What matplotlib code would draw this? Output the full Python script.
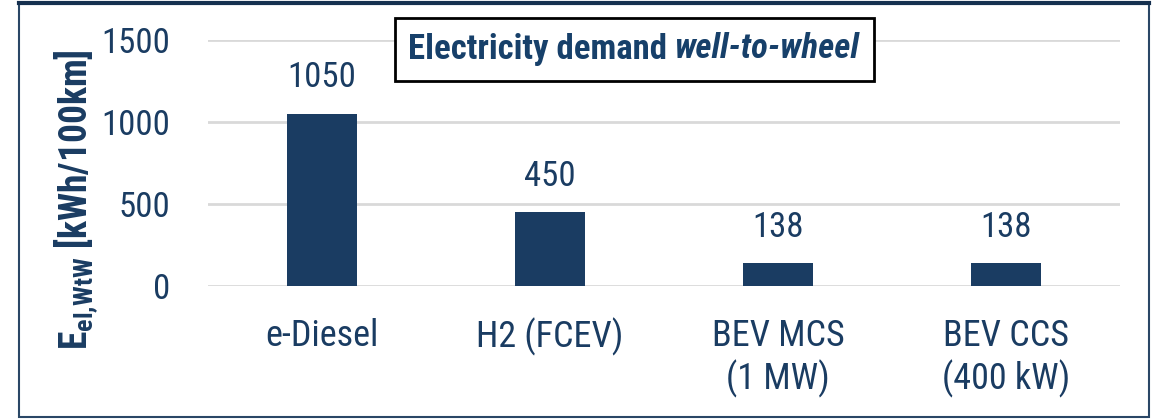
import matplotlib
matplotlib.use("Agg")
import matplotlib.pyplot as plt

categories = ["e-Diesel", "H2 (FCEV)", "BEV MCS\n(1 MW)", "BEV CCS\n(400 kW)"]
values = [1050, 450, 138, 138]
yticks = [0, 500, 1000, 1500]

navy = "#1a3c62"
font = "Roboto Condensed"
plt.rcParams["font.family"] = [font, "DejaVu Sans"]
plt.rcParams["mathtext.fontset"] = "custom"
plt.rcParams["mathtext.rm"] = font
plt.rcParams["mathtext.bf"] = font + ":bold"
plt.rcParams["mathtext.it"] = font + ":italic"

W, H = 1158, 419
fig = plt.figure(figsize=(W / 100, H / 100), dpi=100)
ax = fig.add_axes([208 / W, 1 - 286 / H, 912 / W, 246 / H])
ax.bar(range(len(values)), values, width=0.31, color=navy, zorder=3)
ax.set_xlim(-0.5, 3.5)
ax.set_ylim(0, 1500)
ax.set_yticks(yticks)
ax.set_xticks(range(len(values)))
ax.set_xticklabels(categories, fontsize=26, color=navy, linespacing=1.2)
ax.tick_params(axis="y", labelsize=25, labelcolor=navy, length=0, pad=27)
ax.tick_params(axis="x", length=0, pad=23)
ax.yaxis.grid(True, color="#d9d9d9", linewidth=2, zorder=0)
for s in ax.spines.values():
    s.set_visible(False)
for i, v in enumerate(values):
    ax.annotate(str(v), (i, v), xytext=(0, 14), textcoords="offset points",
                ha="center", va="bottom", fontsize=25, color=navy)

fig.text(77 / W, 1 - 200 / H, r"$\mathbf{E}_{\mathbf{el{,}WtW}}$ [kWh/100km]", rotation=90,
         ha="center", va="center", fontsize=27, fontweight="bold", color=navy)

# title box
fig.patches.append(plt.Rectangle((395 / W, 1 - 81 / H), 479 / W, 63 / H, transform=fig.transFigure,
                                 fill=True, facecolor="white", edgecolor="black", linewidth=2, zorder=5))
tc = "#17406a"
t1 = fig.text(0, 1 - 49 / H, "Electricity demand ", ha="left", va="center",
              fontsize=25, fontweight="bold", color=tc, zorder=6)
t2 = fig.text(0, 1 - 49 / H, "well-to-wheel", ha="left", va="center",
              fontsize=25, fontweight="bold", style="italic", color=tc, zorder=6)
r = fig.canvas.get_renderer()
w1 = t1.get_window_extent(r).width
w2 = t2.get_window_extent(r).width
x0 = 634 - (w1 + w2) / 2
t1.set_x(x0 / W)
t2.set_x((x0 + w1) / W)

# outer frame
fig.patches.append(plt.Rectangle((19 / W, 2 / H), 1130 / W, 414 / H, transform=fig.transFigure,
                                 fill=False, edgecolor="#2a4766", linewidth=1.5))
fig.add_artist(plt.Line2D([19 / W, 1149 / W], [1 - 3.5 / H] * 2, color="#15304f", linewidth=3))
fig.savefig("out.png", dpi=100)
